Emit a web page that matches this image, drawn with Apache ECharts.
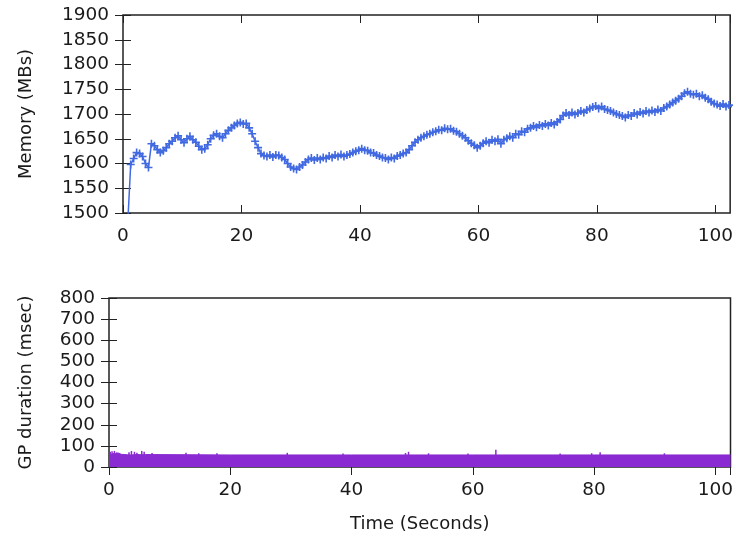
<!DOCTYPE html>
<html>
<head>
<meta charset="utf-8">
<style>
  body { margin: 0; background: #fff; }
  #chart { width: 736px; height: 536px; }
</style>
</head>
<body>
<div id="chart"></div>
<script src="https://cdn.jsdelivr.net/npm/echarts@6/dist/echarts.min.js"></script>
<script>
// memory samples, one every 0.5 s starting at memStart
var memStart = 0.8;
var memStep = 0.5;
var memValues = [
  1480, 1598, 1610, 1622, 1620, 1614, 1600, 1592, 1640, 1636, 1628, 1622, 1626, 1632, 1640, 1645,
  1652, 1656, 1648, 1642, 1650, 1655, 1648, 1643, 1635, 1628, 1630, 1638, 1650, 1657, 1660, 1655,
  1652, 1660, 1667, 1672, 1677, 1681, 1683, 1680, 1681, 1672, 1660, 1645, 1632, 1620, 1616, 1614,
  1617, 1613, 1617, 1616, 1612, 1608, 1600, 1593, 1590, 1588, 1593, 1597, 1603, 1608, 1611, 1607,
  1611, 1608, 1612, 1610, 1615, 1612, 1617, 1614, 1618, 1614, 1617, 1619, 1622, 1625, 1627, 1630,
  1627, 1626, 1622, 1621, 1617, 1615, 1612, 1611, 1608, 1612, 1610, 1615, 1617, 1620, 1622, 1628,
  1636, 1643, 1648, 1652, 1655, 1658, 1660, 1663, 1665, 1668, 1667, 1671, 1669, 1670, 1666, 1664,
  1660, 1656, 1652, 1646, 1641, 1637, 1632, 1636, 1641, 1645, 1642, 1648, 1645, 1649, 1640, 1648,
  1651, 1655, 1652, 1660, 1658, 1665, 1663, 1670, 1672, 1676, 1673, 1678, 1676, 1680, 1677, 1682,
  1679, 1684, 1689, 1697, 1702, 1698, 1703, 1699, 1702, 1706, 1703, 1708, 1711, 1714, 1716, 1711,
  1715, 1710, 1708, 1706, 1703, 1700, 1698, 1696, 1693, 1698, 1696, 1702, 1699, 1704, 1701, 1706,
  1703, 1707, 1704, 1709, 1706, 1712, 1715, 1719, 1723, 1727, 1731, 1736, 1742, 1745, 1741, 1739,
  1741, 1736, 1738, 1733, 1730, 1725, 1721, 1719, 1716, 1720, 1715, 1718, 1714
];

// GP duration: the dense base band and the few taller events
var gpBandTime  = [0, 0.4, 0.8, 1.2, 1.6, 2.0, 3.0, 3.6, 4.6, 5.4, 6.0, 20, 40, 60, 80, 102.5];
var gpBandValue = [60, 65, 62, 66, 60, 58, 57, 59, 58, 59, 57, 57, 57, 57, 57, 57];
var gpSpikeTime  = [0.2, 0.5, 0.9, 1.3, 3.3, 3.7, 4.2, 4.6, 5.4, 5.8, 7.1, 12.7, 14.8, 17.8, 29.4,
                    38.6, 48.9, 49.4, 52.7, 59.2, 63.8, 74.4, 79.6, 81.0, 91.6];
var gpSpikeValue = [72, 74, 76, 70, 70, 76, 72, 68, 76, 72, 66, 68, 65, 65, 67,
                    64, 66, 72, 65, 64, 82, 64, 65, 70, 65];

var xTicks = [0, 20, 40, 60, 80, 100];

var memData = memValues.map(function (v, i) { return [memStart + i * memStep, v]; });
var bandData = gpBandTime.map(function (t, i) { return [t, gpBandValue[i]]; });
var spikeData = gpSpikeTime.map(function (t, i) { return [t, gpSpikeValue[i]]; });

var font = 'DejaVu Sans';
var txt = '#1a1a1a';
var plus = 'path://M4,0H6V4H10V6H6V10H4V6H0V4H4Z';

function xAxis(grid, main) {
  return {
    type: 'value', gridIndex: grid, min: 0, max: 102.5, interval: 20,
    position: main ? 'bottom' : 'top',
    axisLine: { show: false },
    axisTick: { show: true, inside: true, length: 8, lineStyle: { color: '#222', width: 1 } },
    axisLabel: {
      show: main, margin: 14, fontSize: 18.5, fontFamily: font, color: txt,
      showMaxLabel: false,
      formatter: function (v) { return xTicks.indexOf(v) >= 0 ? String(v) : ''; }
    },
    splitLine: { show: false }
  };
}

function yAxis(grid, main, min, max, step, name, gap) {
  return {
    type: 'value', gridIndex: grid, min: min, max: max, interval: step,
    position: main ? 'left' : 'right',
    name: main ? name : '', nameLocation: 'middle', nameGap: gap, nameRotate: 90,
    nameTextStyle: { fontSize: 18, fontFamily: font, color: txt },
    axisLine: { show: false },
    axisTick: { show: true, inside: true, length: 8, lineStyle: { color: '#222', width: 1 } },
    axisLabel: {
      show: main, margin: 14, fontSize: 18.5, fontFamily: font, color: txt,
      formatter: function (v) { return String(v); }
    },
    splitLine: { show: false }
  };
}

var chart = echarts.init(document.getElementById('chart'), null, { renderer: 'canvas' });

var option = {
  animation: false,
  backgroundColor: '#fff',
  grid: [
    { left: 123, top: 15, right: 2, height: 198, show: true, borderColor: '#222', borderWidth: 1.5 },
    { left: 109, top: 298, right: 1, height: 169, show: true, borderColor: '#222', borderWidth: 1.5 }
  ],
  xAxis: [
    xAxis(0, true), xAxis(0, false),
    Object.assign(xAxis(1, true), {
      name: 'Time (Seconds)', nameLocation: 'middle', nameGap: 48,
      nameTextStyle: { fontSize: 18, fontFamily: font, color: txt }
    }),
    xAxis(1, false)
  ],
  yAxis: [
    yAxis(0, true, 1500, 1900, 50, 'Memory (MBs)', 88),
    yAxis(0, false, 1500, 1900, 50),
    yAxis(1, true, 0, 800, 100, 'GP duration (msec)', 74),
    yAxis(1, false, 0, 800, 100)
  ],
  series: [
    {
      type: 'line', xAxisIndex: 0, yAxisIndex: 0, data: memData,
      symbol: plus, symbolSize: 8, showAllSymbol: true,
      lineStyle: { color: '#4169e1', width: 1.5 },
      itemStyle: { color: '#4169e1' },
      clip: true
    },
    {
      type: 'line', xAxisIndex: 2, yAxisIndex: 2, data: bandData,
      step: 'end', symbol: 'none',
      lineStyle: { color: '#8a2ad2', width: 1 },
      areaStyle: { color: '#8a2ad2', opacity: 1 }
    },
    {
      type: 'bar', xAxisIndex: 2, yAxisIndex: 2, data: spikeData,
      barWidth: 1.5, itemStyle: { color: '#8a2ad2' }
    }
  ]
};

chart.setOption(option);
</script>
</body>
</html>
